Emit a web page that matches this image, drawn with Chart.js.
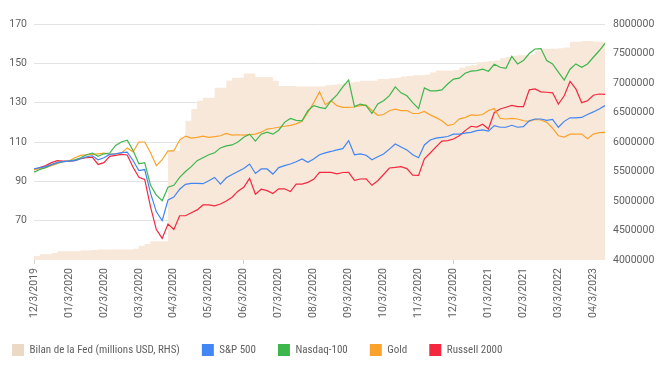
<!DOCTYPE html>
<html>
<head>
<meta charset="utf-8">
<script src="https://cdn.jsdelivr.net/npm/chart.js@4.4.0/dist/chart.umd.min.js"></script>
<style>
  body { margin: 0; background: #fff; }
  #wrap { width: 660px; height: 372px; }
</style>
</head>
<body>
<div id="wrap"><canvas id="myChart"></canvas></div>
<script>
// month tick labels (one every 6 points)
const tickLabels = ['12/3/2019', '01/3/2020', '02/3/2020', '03/3/2020', '04/3/2020', '05/3/2020', '06/3/2020',
    '07/3/2020', '08/3/2020', '09/3/2020', '10/3/2020', '11/3/2020', '12/3/2020', '01/3/2021', '02/3/2021',
    '03/3/2022', '04/3/2023']
const pointsPerTick = 6

// Fed balance sheet, millions USD (right axis)
const fedBalance = [
    4070000, 4070000, 4100000, 4100000, 4120000, 4150000, 4150000, 4150000, 4150000, 4160000,
    4160000, 4170000, 4180000, 4180000, 4180000, 4180000, 4180000, 4180000, 4190000, 4240000,
    4270000, 4320000, 4320000, 4320000, 5850000, 5850000, 6080000, 6360000, 6560000, 6700000,
    6750000, 6750000, 6920000, 6920000, 7040000, 7090000, 7090000, 7160000, 7160000, 7100000,
    7100000, 7100000, 7040000, 6950000, 6950000, 6950000, 6940000, 6940000, 6940000, 6940000,
    6940000, 6960000, 6970000, 6980000, 7000000, 7010000, 7020000, 7040000, 7040000, 7040000,
    7070000, 7070000, 7080000, 7090000, 7110000, 7120000, 7130000, 7130000, 7140000, 7180000,
    7210000, 7210000, 7210000, 7220000, 7260000, 7290000, 7300000, 7350000, 7360000, 7370000,
    7380000, 7420000, 7440000, 7460000, 7470000, 7470000, 7480000, 7550000, 7580000, 7580000,
    7580000, 7590000, 7600000, 7700000, 7700000, 7710000, 7710000, 7700000, 7700000
]

const sp500 = [
    96.4, 97, 97.5, 98.5, 99.5, 100, 100.3, 100.5, 101.5, 102.5,
    103, 101, 102, 103.7, 104, 104.6, 104.9, 100.6, 95.5, 96,
    84, 74.5, 70, 80.5, 82, 86, 88.5, 89, 89, 88.8,
    90.3, 92, 88.6, 91.8, 93.5, 95, 96.5, 98.8, 94, 96.3,
    96.3, 93.7, 97, 98, 98.8, 100, 101.4, 99.7, 101.4, 103.5,
    104.5, 105.2, 106, 106.6, 110.7, 103.5, 104, 103.3, 101, 102.5,
    103.9, 106.4, 109, 107.5, 106, 103.5, 102, 108.5, 111, 112,
    112.4, 112.8, 114, 114, 114.5, 114.9, 115.8, 116.2, 115.5, 118.3,
    117.5, 117.5, 118.5, 117.5, 117.8, 120.8, 121.7, 121.7, 121, 121.5,
    117.5, 120.5, 122.3, 122.3, 122.5, 124, 125.3, 126.8, 128.5
]

const nasdaq100 = [
    94.7, 96, 97, 98.5, 99.5, 100, 100.3, 101, 102, 103.5,
    104.4, 102.7, 104, 104.4, 108.3, 110, 110.9, 105.7, 98.9, 99.5,
    88, 83, 80.2, 87, 88, 92, 95, 97.5, 100.5, 102,
    103.5, 104.5, 107, 108, 108.5, 110, 112.4, 114, 110.5, 114,
    115, 114, 116, 120, 122, 121, 120.8, 125.9, 128.5, 127.6,
    127, 131, 134, 138, 141.5, 128, 129.3, 128.5, 124.5, 129.3,
    131, 133.6, 138, 135, 133.5, 130, 127, 137.5, 136, 136,
    136.5, 139.5, 142, 142.5, 145, 146, 146.3, 147, 146, 149.5,
    148, 147.5, 153.5, 149.7, 151.4, 155, 157.3, 157.5, 151.4, 149.7,
    145.5, 141.5, 147, 149.7, 148, 149.7, 153.1, 156.4, 160.2
]

const gold = [
    95.9, 96.5, 97, 98, 99, 100, 100.3, 102, 103.2, 103.5,
    103.7, 104, 104.3, 103.7, 104, 104.3, 107, 105, 110, 110,
    104.5, 98, 101, 105.5, 105.5, 111, 113, 112, 112.4, 113,
    112.4, 112.7, 113.2, 114.4, 113.5, 113.7, 113.5, 113.8, 114, 115,
    116.6, 117, 117.5, 118, 118.5, 119.2, 120.5, 125, 130, 135.5,
    129, 131, 128.5, 127.6, 127.6, 127.8, 128.5, 128.8, 126, 123.6,
    124, 125.9, 126.7, 126, 126, 124.5, 124.5, 125.5, 123.8, 122.4,
    120.8, 118.4, 119, 121.8, 122.4, 123.8, 123.5, 124, 126, 127,
    122, 121.7, 122, 121.7, 120.8, 120.5, 121.5, 121.2, 120, 117,
    113.2, 112.5, 114, 114, 114, 111.7, 114, 114.8, 114.9
]

const russell2000 = [
    95.9, 97, 98, 99.5, 100.5, 100.3, 100.3, 100.5, 101.5, 102,
    102.3, 98.6, 99.5, 102.7, 103.2, 103.7, 103.4, 97.2, 92.1, 91,
    77, 65.5, 61, 68.3, 65.5, 72.5, 72.5, 74, 75.5, 78,
    78, 77.5, 78.5, 80, 81.9, 85, 87, 91.5, 83.5, 86,
    85.3, 83.8, 86.2, 86.2, 84.8, 88.6, 88.6, 89.5, 91, 94.6,
    94.6, 94.6, 93.8, 94.5, 94.6, 90.5, 91.2, 91.3, 88, 90.3,
    93.5, 96.8, 97.1, 97.5, 96.5, 93.2, 93, 101.5, 104.4, 107.5,
    110.5, 110.7, 111.5, 113.2, 115.8, 118, 117.6, 119, 116.6, 125,
    126.8, 127.7, 128.6, 128, 128, 136.5, 137, 135.5, 135.3, 135,
    129.3, 133.5, 140.8, 137, 130, 131, 133.8, 134.4, 134.2
]

// category labels: tick label on every 6th point, blank elsewhere
let labels = []
for (let i = 0; i < fedBalance.length; i++) {
    labels.push(i % pointsPerTick === 0 ? (tickLabels[i / pointsPerTick] || '') : '')
}

const textColor = '#616161'
const font = { family: 'Roboto', size: 10.5 }
const legendFont = { family: "'Roboto Condensed', 'Liberation Sans Narrow', 'DejaVu Sans Condensed', Roboto", size: 11 }

function lineSet(label, values, color) {
    return {
        label: label,
        data: values,
        borderColor: color,
        backgroundColor: color,
        borderWidth: 1.2,
        pointRadius: 0,
        tension: 0,
        yAxisID: 'y',
        order: 0
    }
}

let data = {
    labels: labels,
    datasets: [
        {
            label: 'Bilan de la Fed (millions USD, RHS)',
            data: fedBalance,
            yAxisID: 'y1',
            stepped: 'after',
            fill: 'start',
            backgroundColor: '#F7E8D9',
            borderWidth: 0,
            borderColor: 'rgba(0,0,0,0)',
            pointRadius: 0,
            order: 1
        },
        lineSet('S&P 500', sp500, '#4285F4'),
        lineSet('Nasdaq-100', nasdaq100, '#3DB64C'),
        lineSet('Gold', gold, '#FBA22C'),
        lineSet('Russell 2000', russell2000, '#F3283F')
    ]
}

let config = {
    type: 'line',
    data: data,
    options: {
        responsive: true,
        maintainAspectRatio: false,
        animation: false,
        layout: { padding: { top: 24, left: -10, right: 0, bottom: 6 } },
        plugins: {
            tooltip: { enabled: false },
            legend: {
                position: 'bottom',
                align: 'start',
                labels: {
                    font: legendFont,
                    color: textColor,
                    boxWidth: 12,
                    boxHeight: 12,
                    padding: 22,
                    sort: (a, b) => a.datasetIndex - b.datasetIndex,
                    generateLabels: chart => {
                        let items = Chart.defaults.plugins.legend.labels.generateLabels(chart)
                        items.forEach(it => {
                            if (it.datasetIndex === 0) {
                                it.fillStyle = '#EBD9C6'
                                it.strokeStyle = '#EBD9C6'
                            }
                            it.lineWidth = 0
                        })
                        return items
                    }
                }
            }
        },
        scales: {
            x: {
                offset: false,
                border: { display: false },
                grid: {
                    drawOnChartArea: false,
                    drawTicks: true,
                    tickLength: 4,
                    color: ctx => labels[ctx.index] ? '#d0d0d0' : 'rgba(0,0,0,0)'
                },
                ticks: {
                    autoSkip: false,
                    minRotation: 90,
                    maxRotation: 90,
                    padding: 4,
                    color: textColor,
                    font: font,
                    callback: (v, i) => labels[i] ? labels[i] : null
                }
            },
            y: {
                position: 'left',
                min: 50,
                max: 170,
                border: { display: false },
                afterFit: scale => { scale.width = 44 },
                grid: {
                    drawTicks: false,
                    color: ctx => ctx.tick && ctx.tick.value === 50 ? 'rgba(0,0,0,0)' : '#e3e3e3'
                },
                ticks: {
                    stepSize: 20,
                    padding: 7,
                    color: textColor,
                    font: font,
                    callback: v => v === 50 ? '' : v
                }
            },
            y1: {
                position: 'right',
                min: 4000000,
                max: 8000000,
                border: { display: false },
                afterFit: scale => { scale.width = 55 },
                grid: { drawOnChartArea: false, drawTicks: false },
                ticks: {
                    stepSize: 500000,
                    padding: 8,
                    color: textColor,
                    font: font,
                    callback: v => String(v)
                }
            }
        }
    }
}

let myChart = new Chart(
    document.getElementById('myChart'),
    config
)
</script>
</body>
</html>
